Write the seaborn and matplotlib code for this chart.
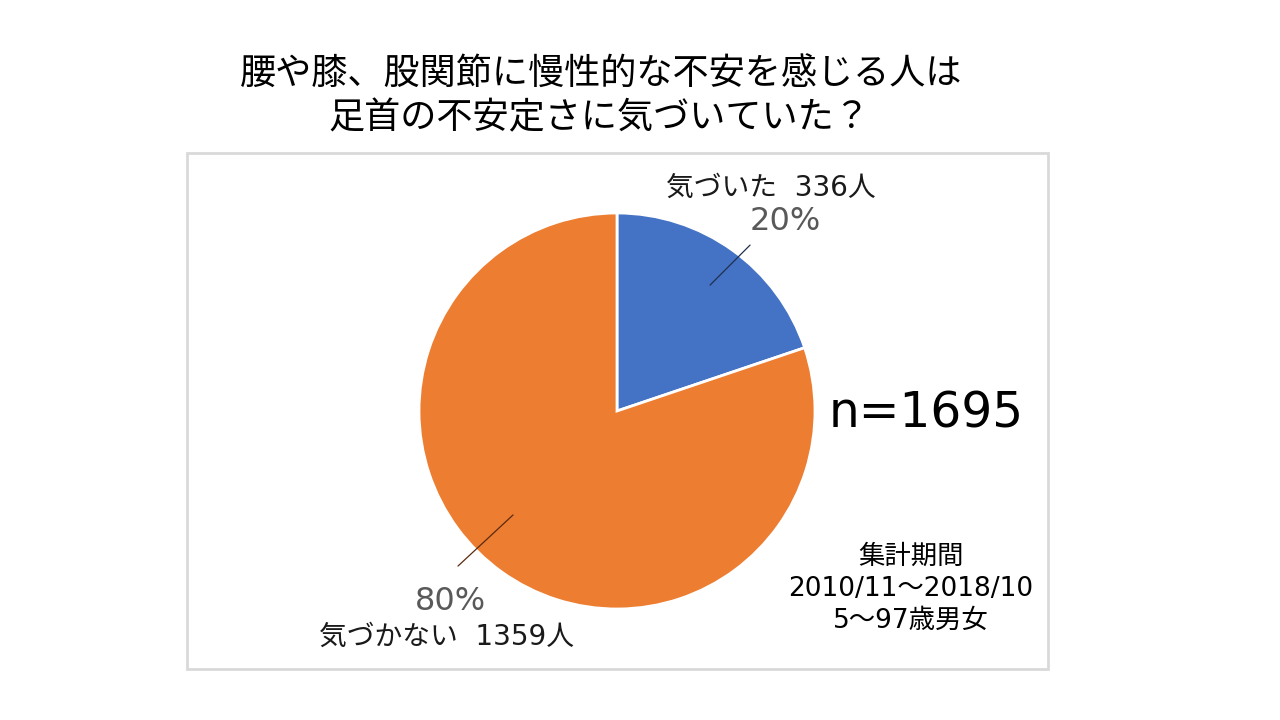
import matplotlib
matplotlib.use("Agg")
import matplotlib.pyplot as plt
from matplotlib.patches import Rectangle
import seaborn as sns

categories = ["気づいた", "気づかない"]
counts = [336, 1359]
total_label = "n=1695"
title_lines = ["腰や膝、股関節に慢性的な不安を感じる人は", "足首の不安定さに気づいていた？"]
period_lines = ["集計期間", "2010/11～2018/10", "5～97歳男女"]

sns.set_theme(style="white")
plt.rcParams["font.family"] = ["Noto Sans CJK JP", "DejaVu Sans"]
LAT = ["DejaVu Sans", "Noto Sans CJK JP"]

colors = ["#4472C4", "#ED7D31"]

fig = plt.figure(figsize=(12.8, 7.2), dpi=100)
fig.patch.set_facecolor("white")

# frame
fig.add_artist(Rectangle((187 / 1280, 1 - 669 / 720), (1048 - 187) / 1280, (669 - 153) / 720,
                         transform=fig.transFigure, fill=False, edgecolor="#d9d9d9", lw=2))

ax = fig.add_axes([320 / 1280, 12 / 720, 594 / 1280, 594 / 720])
ax.pie(counts, colors=colors, startangle=90, counterclock=False, radius=1,
       wedgeprops=dict(edgecolor="white", linewidth=2))
ax.set_xlim(-1.5, 1.5)
ax.set_ylim(-1.5, 1.5)
ax.set_aspect("equal")
ax.axis("off")

total = sum(counts)
pcts = [f"{round(c / total * 100)}%" for c in counts]

# blue labels
ax.text(0.778, 1.126, f"{categories[0]}  {counts[0]}人", ha="center", va="center",
        fontsize=20, color="#1a1a1a", family=LAT)
ax.text(0.848, 0.955, pcts[0], ha="center", va="center", fontsize=23, color="#595959", family=LAT)
ax.plot([0.47, 0.672], [0.636, 0.838], color="#1f3050", lw=0.9)

# orange labels
ax.text(-0.843, -0.96, pcts[1], ha="center", va="center", fontsize=23, color="#595959", family=LAT)
ax.text(-0.86, -1.141, f"{categories[1]}  {counts[1]}人", ha="center", va="center",
        fontsize=20, color="#1a1a1a", family=LAT)
ax.plot([-0.525, -0.803], [-0.525, -0.783], color="#5a2a10", lw=0.9)

# title
fig.text(601 / 1280, 1 - 75 / 720, title_lines[0], ha="center", va="center", fontsize=26, color="black")
fig.text(599 / 1280, 1 - 118 / 720, title_lines[1], ha="center", va="center", fontsize=26, color="black")

# n
fig.text(926 / 1280, 1 - 413 / 720, total_label, ha="center", va="center", fontsize=35,
         color="black", family=LAT)

# period
for i, line in enumerate(period_lines):
    fig.text(911 / 1280, 1 - (557 + i * 32) / 720, line, ha="center", va="center", fontsize=19,
             color="black", family=LAT)

fig.savefig("out.png", dpi=100, facecolor="white")
